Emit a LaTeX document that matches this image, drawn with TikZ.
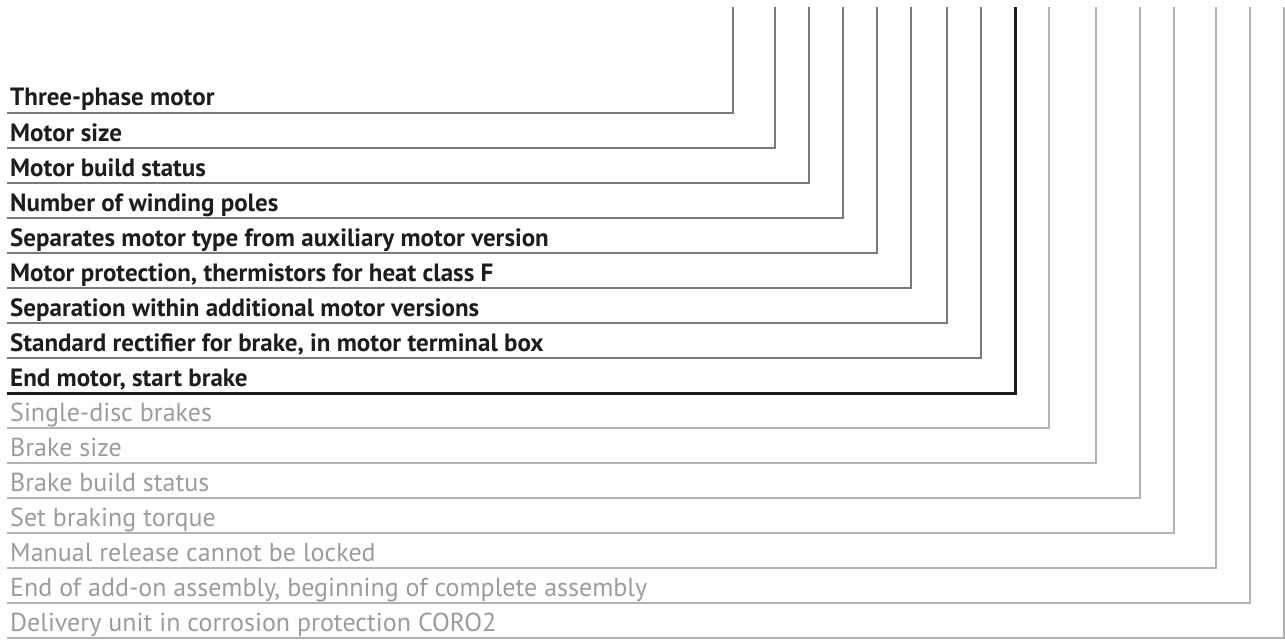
\documentclass[tikz,border=0pt]{standalone}
\usepackage{fontspec}
\setmainfont{PT Sans}
\usetikzlibrary{positioning}
\definecolor{tdink}{HTML}{1D1D1B}
\definecolor{tdgrey}{HTML}{7A7A7A}
\definecolor{tdlight}{HTML}{9C9C9C}
\definecolor{tdlightline}{HTML}{B2B2B2}
\tikzset{
  tdmotor/.style={
    anchor=base west, inner sep=0pt, text=tdink,
    font=\fontsize{25}{25}\selectfont\bfseries
  },
  tdbrake/.style={
    anchor=base west, inner sep=0pt, text=tdlight,
    font=\fontsize{26}{26}\selectfont
  },
  tdmotorline/.style={draw=tdgrey,line width=1.5pt},
  tdendline/.style={draw=tdink,line width=3pt},
  tdbrakeline/.style={draw=tdlightline,line width=1.5pt}
}

\begin{document}
\begin{tikzpicture}[x=1pt,y=-1pt]
\useasboundingbox (0,0) rectangle (1285,642);
% motor part of the type designation
\foreach \i/\xc/\txt in {
  1/733/Three-phase motor,
  2/775/Motor size,
  3/809/Motor build status,
  4/843/Number of winding poles,
  5/877/Separates motor type from auxiliary motor version,
  6/911/{Motor protection, thermistors for heat class F},
  7/947/Separation within additional motor versions,
  8/981/{Standard rectifier for brake, in motor terminal box}}
{
  \pgfmathsetmacro\yl{78+35*\i}
  \node[tdmotor] (m\i) at (10,\yl-7) {\txt};
  \coordinate (ms\i) at (7,\yl);
  \coordinate (mc\i) at (\xc,\yl);
  \coordinate (mt\i) at (\xc,7);
  \draw[tdmotorline] (ms\i) -- (mc\i) -- (mt\i);
}
% end of motor
\node[tdmotor] (m9) at (10,386) {End motor, start brake};
\coordinate (ms9) at (7,393);
\coordinate (mc9) at (1015,393);
\coordinate (mt9) at (1015,7);
\draw[tdendline] (ms9) -- (mc9) -- (mt9);
% brake part
\foreach \i/\xc/\txt in {
  1/1049/Single-disc brakes,
  2/1096/Brake size,
  3/1140/Brake build status,
  4/1174/Set braking torque,
  5/1216/Manual release cannot be locked,
  6/1250/{End of add-on assembly, beginning of complete assembly},
  7/1284/Delivery unit in corrosion protection CORO2}
{
  \pgfmathsetmacro\yl{393+35*\i}
  \node[tdbrake] (b\i) at (10,\yl-7) {\txt};
  \coordinate (bs\i) at (7,\yl);
  \coordinate (bc\i) at (\xc,\yl);
  \coordinate (bt\i) at (\xc,7);
  \draw[tdbrakeline] (bs\i) -- (bc\i) -- (bt\i);
}
\end{tikzpicture}
\end{document}
